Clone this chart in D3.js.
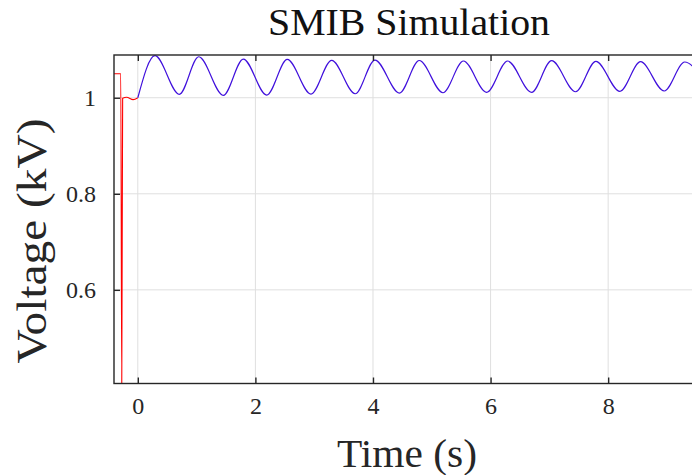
<!DOCTYPE html>
<html>
<head>
    <style>
        body {
            margin: 0;
            background-color: #ffffff;
        }

        .grid line {
            stroke: #dfdfdf;
            stroke-width: 1px;
        }

        .frame {
            stroke: #262626;
            stroke-width: 1.4px;
            fill: none;
        }

        .tick-mark {
            stroke: #262626;
            stroke-width: 1.4px;
        }
    </style>
</head>
<body>
    <div id="chart"></div>

    <script src="https://d3js.org/d3.v7.min.js"></script>
    <script>
        // values
        var xTicks = [0, 2, 4, 6, 8];
        var yTicks = [0.6, 0.8, 1];

        // red: pre-fault / fault part
        var redT = [-0.405, -0.29, -0.273, -0.258, -0.19, -0.08, 0];
        var redV = [1.05, 1.05, 0.40, 0.999, 1.001, 0.996, 1.0];

        // blue: post-fault swing, start + peaks/troughs
        var blueT = [0, 0.292, 0.706, 1.036, 1.454, 1.794, 2.192, 2.542, 2.945, 3.297, 3.698,
                     4.033, 4.450, 4.787, 5.190, 5.538, 5.933, 6.290, 6.698, 7.038, 7.446,
                     7.791, 8.199, 8.551, 8.953, 9.302, 9.700];
        var blueV = [1.0, 1.0875, 1.0071, 1.0854, 1.0050, 1.0806, 1.0056, 1.0800, 1.0077, 1.0779, 1.0083,
                     1.0785, 1.0098, 1.0775, 1.0104, 1.0765, 1.0113, 1.0765, 1.0113, 1.0771, 1.0125,
                     1.0758, 1.0133, 1.0750, 1.0140, 1.0744, 1.0145];

        var xDomain = [-0.405, 9.63];
        var yDomain = [0.405, 1.089];

        var W = 692, H = 475;
        var plot = {left: 114, right: 704, top: 55, bottom: 383.5};
        var serif = "'Liberation Serif', 'Times New Roman', serif";

        var svg = d3.select("#chart").append("svg")
            .attr("width", W)
            .attr("height", H)
            .attr("font-family", serif);

        var x = d3.scaleLinear().domain(xDomain).range([plot.left, plot.right]);
        var y = d3.scaleLinear().domain(yDomain).range([plot.bottom, plot.top]);

        svg.append("clipPath").attr("id", "clip")
            .append("rect")
            .attr("x", plot.left).attr("y", plot.top)
            .attr("width", plot.right - plot.left)
            .attr("height", plot.bottom - plot.top);

        // grid
        var grid = svg.append("g").attr("class", "grid");
        grid.selectAll("line.gx").data(xTicks).enter().append("line")
            .attr("x1", function(d) { return x(d); })
            .attr("x2", function(d) { return x(d); })
            .attr("y1", plot.top).attr("y2", plot.bottom);
        grid.selectAll("line.gy").data(yTicks).enter().append("line")
            .attr("y1", function(d) { return y(d); })
            .attr("y2", function(d) { return y(d); })
            .attr("x1", plot.left).attr("x2", plot.right);

        // lines
        var line = d3.line()
            .x(function(d) { return x(d[0]); })
            .y(function(d) { return y(d[1]); })
            .curve(d3.curveMonotoneX);

        var lines = svg.append("g").attr("clip-path", "url(#clip)");

        lines.append("path")
            .datum(d3.zip(redT, redV))
            .attr("d", line)
            .attr("fill", "none")
            .attr("stroke", "#ff0000")
            .attr("stroke-width", 1.1);

        lines.append("path")
            .datum(d3.zip(blueT, blueV))
            .attr("d", line)
            .attr("fill", "none")
            .attr("stroke", "#4010dc")
            .attr("stroke-width", 1.2);

        // axes (inward ticks, box)
        var tickLen = 6;
        var bottomAxis = d3.axisBottom(x).tickValues(xTicks).tickSize(-tickLen).tickPadding(13).tickFormat(d3.format("d"));
        var topAxis = d3.axisTop(x).tickValues(xTicks).tickSize(-tickLen).tickFormat("");
        var leftAxis = d3.axisLeft(y).tickValues(yTicks).tickSize(-tickLen).tickPadding(18).tickFormat(function(d) { return d === 1 ? "1" : d3.format(".1f")(d); });

        function styleAxis(g) {
            g.attr("font-family", serif).attr("font-size", 24);
            g.select(".domain").remove();
            g.selectAll(".tick line").attr("class", "tick-mark");
            g.selectAll(".tick text").attr("fill", "#262626");
        }

        svg.append("g").attr("transform", "translate(0," + plot.bottom + ")").call(bottomAxis).call(styleAxis);
        svg.append("g").attr("transform", "translate(0," + plot.top + ")").call(topAxis).call(styleAxis);
        svg.append("g").attr("transform", "translate(" + plot.left + ",0)").call(leftAxis).call(styleAxis);

        svg.append("rect")
            .attr("class", "frame")
            .attr("x", plot.left).attr("y", plot.top)
            .attr("width", plot.right - plot.left)
            .attr("height", plot.bottom - plot.top);

        // titles
        svg.append("text")
            .attr("x", 409).attr("y", 34.5)
            .attr("text-anchor", "middle")
            .attr("font-size", 38)
            .attr("fill", "#111")
            .attr("textLength", 282)
            .attr("lengthAdjust", "spacingAndGlyphs")
            .text("SMIB Simulation");

        svg.append("text")
            .attr("x", 407).attr("y", 467)
            .attr("text-anchor", "middle")
            .attr("font-size", 40)
            .attr("fill", "#262626")
            .attr("textLength", 140)
            .attr("lengthAdjust", "spacingAndGlyphs")
            .text("Time (s)");

        svg.append("text")
            .attr("transform", "translate(46,241) rotate(-90)")
            .attr("text-anchor", "middle")
            .attr("font-size", 42)
            .attr("fill", "#262626")
            .attr("textLength", 245)
            .attr("lengthAdjust", "spacingAndGlyphs")
            .text("Voltage (kV)");
    </script>
</body>
</html>
